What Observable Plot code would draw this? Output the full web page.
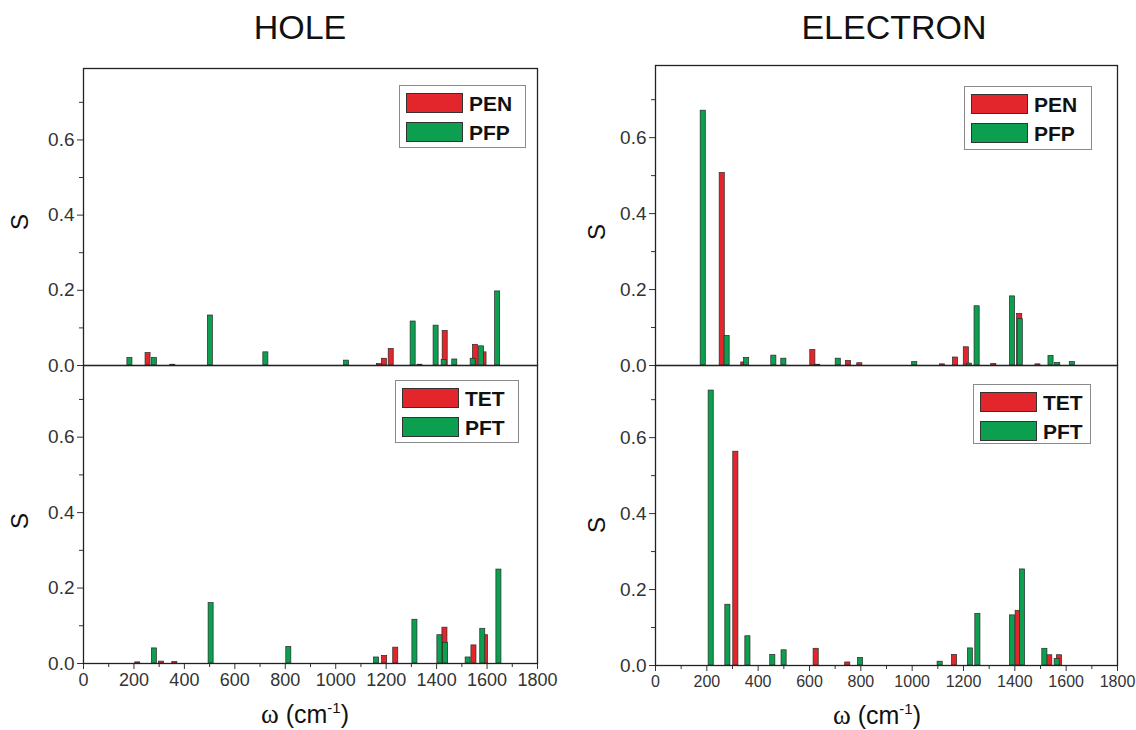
<!DOCTYPE html>
<html><head><meta charset="utf-8">
<script src="https://cdn.jsdelivr.net/npm/d3@7"></script>
<script src="https://cdn.jsdelivr.net/npm/@observablehq/plot@0.6"></script>
<style>
body{margin:0;background:#fff;font-family:Arial,"Liberation Sans",sans-serif;}
#wrap{position:relative;width:1136px;height:730px;overflow:hidden;background:#fff;}
.abs{position:absolute;}
#wrap svg{overflow:visible;}
.title{font-size:34px;color:#111;transform:translateX(-50%);white-space:nowrap;}
.ylab{font-size:24px;color:#111;transform:translate(-50%,-50%) rotate(-90deg);}
.xlab{font-size:25px;color:#111;transform:translate(-50%,-50%);white-space:nowrap;}
.xlab sup{font-size:15px;}
.legend{border:1px solid #8a8a8a;background:#fff;box-sizing:border-box;}
.sw{position:absolute;border:1px solid #333;box-sizing:border-box;}
.lt{position:absolute;font-weight:bold;font-size:21px;color:#111;line-height:21px;}
</style></head><body><div id="wrap"></div>
<script>
// ---- data (ω in cm^-1, S) ----
const holePEN_w = [256, 354, 1174, 1193, 1220, 1334, 1434, 1554, 1588];
const holePEN_s = [0.033, 0.002, 0.004, 0.018, 0.044, 0.002, 0.092, 0.055, 0.035];
const holePFP_w = [184, 281, 503, 723, 1043, 1307, 1398, 1430, 1472, 1545, 1578, 1642];
const holePFP_s = [0.020, 0.020, 0.133, 0.035, 0.013, 0.117, 0.106, 0.015, 0.016, 0.018, 0.051, 0.197];

const holeTET_w = [215, 309, 362, 1194, 1238, 1433, 1548, 1594];
const holeTET_s = [0.003, 0.005, 0.004, 0.020, 0.042, 0.095, 0.048, 0.075];
const holePFT_w = [281, 506, 814, 1162, 1314, 1413, 1435, 1525, 1583, 1647];
const holePFT_s = [0.040, 0.160, 0.044, 0.016, 0.116, 0.075, 0.055, 0.016, 0.092, 0.249];

const elecPEN_w = [260, 344, 613, 752, 796, 1118, 1169, 1211, 1318, 1419, 1490];
const elecPEN_s = [0.507, 0.008, 0.041, 0.012, 0.006, 0.003, 0.021, 0.048, 0.004, 0.136, 0.003];
const elecPFP_w = [186, 279, 355, 461, 500, 632, 712, 1010, 1223, 1253, 1391, 1421, 1541, 1567, 1624];
const elecPFP_s = [0.671, 0.078, 0.020, 0.026, 0.018, 0.002, 0.018, 0.009, 0.005, 0.156, 0.182, 0.122, 0.025, 0.007, 0.009];

const elecTET_w = [313, 626, 749, 1165, 1413, 1536, 1574];
const elecTET_s = [0.563, 0.044, 0.008, 0.028, 0.144, 0.027, 0.027];
const elecPFT_w = [217, 282, 360, 457, 501, 799, 1109, 1227, 1256, 1391, 1430, 1517, 1565];
const elecPFT_s = [0.724, 0.160, 0.077, 0.028, 0.040, 0.020, 0.010, 0.045, 0.136, 0.132, 0.253, 0.044, 0.017];

const xMajor = [0, 200, 400, 600, 800, 1000, 1200, 1400, 1600, 1800];
const xMinor = [100, 300, 500, 700, 900, 1100, 1300, 1500, 1700];
const yMajor = [0, 0.2, 0.4, 0.6];
const yMinor = [0.1, 0.3, 0.5, 0.7];

const RED = "#e3262b", GREEN = "#0b9f4f";
const HALF = 10; // half bar width in cm^-1

const rows = (w, s) => w.map((v, i) => ({w: v, s: s[i]}));
const wrap = document.getElementById("wrap");

function panel(o) {
  const bars = (d, color) => Plot.rectY(d, {x1: r => r.w - HALF, x2: r => r.w + HALF, y: "s",
    fill: color, stroke: "#2a2a2a", strokeWidth: 0.7});
  const marks = [
    bars(o.red, RED), bars(o.green, GREEN),
    Plot.axisY(yMajor, {tickSize: 6, tickPadding: 3, tickFormat: d3.format(".1f"), label: null, fontSize: 19}),
    Plot.axisY(yMinor, {tickSize: 4, tickFormat: () => "", label: null}),
  ];
  if (o.showX) {
    marks.push(Plot.axisX(xMajor, {tickSize: 6, tickPadding: 4, label: null, fontSize: o.xfs, tickFormat: d => String(d)}));
    marks.push(Plot.axisX(xMinor, {tickSize: 4, tickFormat: () => "", label: null}));
  }
  marks.push(Plot.frame({stroke: "#222", strokeWidth: 1.3}));
  const p = Plot.plot({
    width: o.width, height: o.height,
    marginLeft: o.ml, marginRight: o.mr, marginTop: o.mt, marginBottom: o.mb,
    x: {domain: [0, 1800], axis: o.showX ? undefined : null},
    y: {domain: [0, 0.79]},
    style: {fontFamily: "Arial, 'Liberation Sans', sans-serif", color: "#333", background: "transparent", overflow: "visible"},
    marks
  });
  p.style.position = "absolute";
  p.style.left = o.left + "px";
  p.style.top = o.top + "px";
  wrap.appendChild(p);
}

// left column: frame x 83..537 ; right column: frame x 655..1117
panel({left: 0, top: 0, width: 560, height: 365, ml: 83, mr: 23, mt: 68, mb: 0,
  red: rows(holePEN_w, holePEN_s), green: rows(holePFP_w, holePFP_s), showX: false});
panel({left: 0, top: 365, width: 560, height: 365, ml: 83, mr: 23, mt: 0, mb: 67, xfs: 18,
  red: rows(holeTET_w, holeTET_s), green: rows(holePFT_w, holePFT_s), showX: true});
panel({left: 560, top: 0, width: 576, height: 365, ml: 95, mr: 19, mt: 65, mb: 0,
  red: rows(elecPEN_w, elecPEN_s), green: rows(elecPFP_w, elecPFP_s), showX: false});
panel({left: 560, top: 365, width: 576, height: 365, ml: 95, mr: 19, mt: 0, mb: 65, xfs: 16,
  red: rows(elecTET_w, elecTET_s), green: rows(elecPFT_w, elecPFT_s), showX: true});

function add(html, cls, x, y) {
  const d = document.createElement("div");
  d.className = "abs " + cls;
  d.style.left = x + "px"; d.style.top = y + "px";
  d.innerHTML = html;
  wrap.appendChild(d);
  return d;
}
add("HOLE", "title", 300, 8);
add("ELECTRON", "title", 894, 8);
add("S", "ylab", 20, 222);
add("S", "ylab", 20, 521);
add("S", "ylab", 597, 232);
add("S", "ylab", 597, 525);
const xl = '<span style="font-family:\'Liberation Serif\',serif;font-size:27px">ω</span> (cm<sup>-1</sup>)';
add(xl, "xlab", 305, 714);
add(xl, "xlab", 877, 715);

function legend(x, y, w, h, labels) {
  const box = add("", "legend", x, y);
  box.style.width = w + "px"; box.style.height = h + "px";
  [RED, GREEN].forEach((c, i) => {
    const s = document.createElement("div");
    s.className = "sw";
    s.style.left = "6px"; s.style.top = (7 + i * 29) + "px";
    s.style.width = "57px"; s.style.height = "20px";
    s.style.background = c;
    box.appendChild(s);
    const t = document.createElement("div");
    t.className = "lt";
    t.style.left = "69px"; t.style.top = (7 + i * 29) + "px";
    t.textContent = labels[i];
    box.appendChild(t);
  });
}
legend(399, 85, 127, 63, ["PEN", "PFP"]);
legend(395, 380, 124, 63, ["TET", "PFT"]);
legend(964, 86, 128, 64, ["PEN", "PFP"]);
legend(973, 384, 118, 60, ["TET", "PFT"]);
</script></body></html>
